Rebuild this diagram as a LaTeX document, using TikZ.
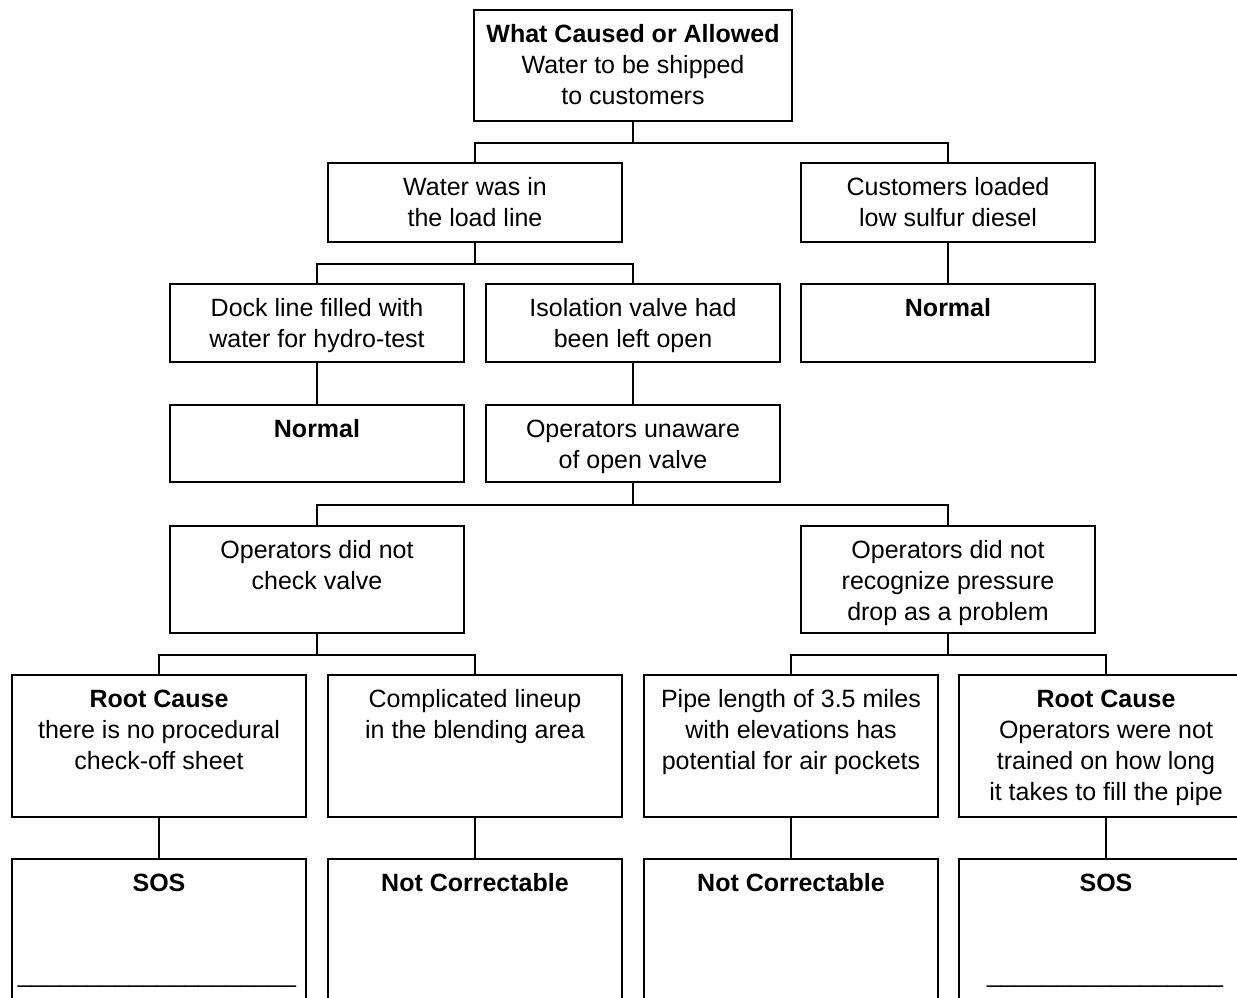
\documentclass[tikz,border=0pt]{standalone}
\usepackage{fontspec}
\setmainfont{Liberation Sans}
\newcommand\mfnt{\fontsize{25}{31}\selectfont}
\newcommand\fl{\rule{0pt}{22pt}}
\begin{document}
\begin{tikzpicture}[x=1pt,y=-1pt,
  bx/.style={draw, line width=1.7pt, minimum width=294pt, inner sep=0pt, anchor=north},
  lbl/.style={anchor=north, inner sep=0pt, align=center, font=\mfnt},
  ln/.style={line width=1.7pt}]
\useasboundingbox (0,0) rectangle (1237,997);
\clip (0,0) rectangle (1237,997);
% boxes
\node[bx, minimum width=318pt, minimum height=111pt] (R) at (633,9) {};
\node[bx, minimum height=79pt] (A1) at (475,162) {};
\node[bx, minimum height=79pt] (A2) at (948,162) {};
\node[bx, minimum height=78pt] (B1) at (317,283) {};
\node[bx, minimum height=78pt] (B2) at (633,283) {};
\node[bx, minimum height=78pt] (B3) at (948,283) {};
\node[bx, minimum height=77pt] (C1) at (317,404) {};
\node[bx, minimum height=77pt] (C2) at (633,404) {};
\node[bx, minimum height=107pt] (D1) at (317,525) {};
\node[bx, minimum height=107pt] (D2) at (948,525) {};
\node[bx, minimum height=142pt] (E1) at (159,674) {};
\node[bx, minimum height=142pt] (E2) at (475,674) {};
\node[bx, minimum height=142pt] (E3) at (791,674) {};
\node[bx, minimum height=142pt] (E4) at (1106,674) {};
\node[bx, minimum height=170pt] (F1) at (159,858) {};
\node[bx, minimum height=170pt] (F2) at (475,858) {};
\node[bx, minimum height=170pt] (F3) at (791,858) {};
\node[bx, minimum height=170pt] (F4) at (1106,858) {};
% texts
\node[lbl] (tR) at ([yshift=-11pt]R.north) {\fl\textbf{What Caused or Allowed}\\Water to be shipped\\to customers};
\node[lbl] (tA1) at ([yshift=-11pt]A1.north) {\fl Water was in\\the load line};
\node[lbl] (tA2) at ([yshift=-11pt]A2.north) {\fl Customers loaded\\low sulfur diesel};
\node[lbl] (tB1) at ([yshift=-11pt]B1.north) {\fl Dock line filled with\\water for hydro-test};
\node[lbl] (tB2) at ([yshift=-11pt]B2.north) {\fl Isolation valve had\\been left open};
\node[lbl] (tB3) at ([yshift=-11pt]B3.north) {\fl\textbf{Normal}};
\node[lbl] (tC1) at ([yshift=-11pt]C1.north) {\fl\textbf{Normal}};
\node[lbl] (tC2) at ([yshift=-11pt]C2.north) {\fl Operators unaware\\of open valve};
\node[lbl] (tD1) at ([yshift=-11pt]D1.north) {\fl Operators did not\\check valve};
\node[lbl] (tD2) at ([yshift=-11pt]D2.north) {\fl Operators did not\\recognize pressure\\drop as a problem};
\node[lbl] (tE1) at ([yshift=-11pt]E1.north) {\fl\textbf{Root Cause}\\there is no procedural\\check-off sheet};
\node[lbl] (tE2) at ([yshift=-11pt]E2.north) {\fl Complicated lineup\\in the blending area};
\node[lbl] (tE3) at ([yshift=-11pt]E3.north) {\fl Pipe length of 3.5 miles\\with elevations has\\potential for air pockets};
\node[lbl] (tE4) at ([yshift=-11pt]E4.north) {\fl\textbf{Root Cause}\\Operators were not\\trained on how long\\it takes to fill the pipe};
\node[lbl] (tF1) at ([yshift=-11pt]F1.north) {\fl\textbf{SOS}};
\node[lbl] (tF2) at ([yshift=-11pt]F2.north) {\fl\textbf{Not Correctable}};
\node[lbl] (tF3) at ([yshift=-11pt]F3.north) {\fl\textbf{Not Correctable}};
\node[lbl] (tF4) at ([yshift=-11pt]F4.north) {\fl\textbf{SOS}};
\node[anchor=base, inner sep=0pt, font=\mfnt] (u1) at (157,982) {\_\_\_\_\_\_\_\_\_\_\_\_\_\_\_\_\_\_\_\_};
\node[anchor=base, inner sep=0pt, font=\mfnt] (u4) at (1105,982) {\_\_\_\_\_\_\_\_\_\_\_\_\_\_\_\_\_};
% connectors
\draw[ln] (R.south) -- ++(0,21) -| (A1.north);
\draw[ln] (R.south) -- ++(0,21) -| (A2.north);
\draw[ln] (A1.south) -- ++(0,21) -| (B1.north);
\draw[ln] (A1.south) -- ++(0,21) -| (B2.north);
\draw[ln] (A2.south) -- (B3.north);
\draw[ln] (B1.south) -- (C1.north);
\draw[ln] (B2.south) -- (C2.north);
\draw[ln] (C2.south) -- ++(0,22) -| (D1.north);
\draw[ln] (C2.south) -- ++(0,22) -| (D2.north);
\draw[ln] (D1.south) -- ++(0,21) -| (E1.north);
\draw[ln] (D1.south) -- ++(0,21) -| (E2.north);
\draw[ln] (D2.south) -- ++(0,21) -| (E3.north);
\draw[ln] (D2.south) -- ++(0,21) -| (E4.north);
\draw[ln] (E1.south) -- (F1.north);
\draw[ln] (E2.south) -- (F2.north);
\draw[ln] (E3.south) -- (F3.north);
\draw[ln] (E4.south) -- (F4.north);
\end{tikzpicture}
\end{document}
